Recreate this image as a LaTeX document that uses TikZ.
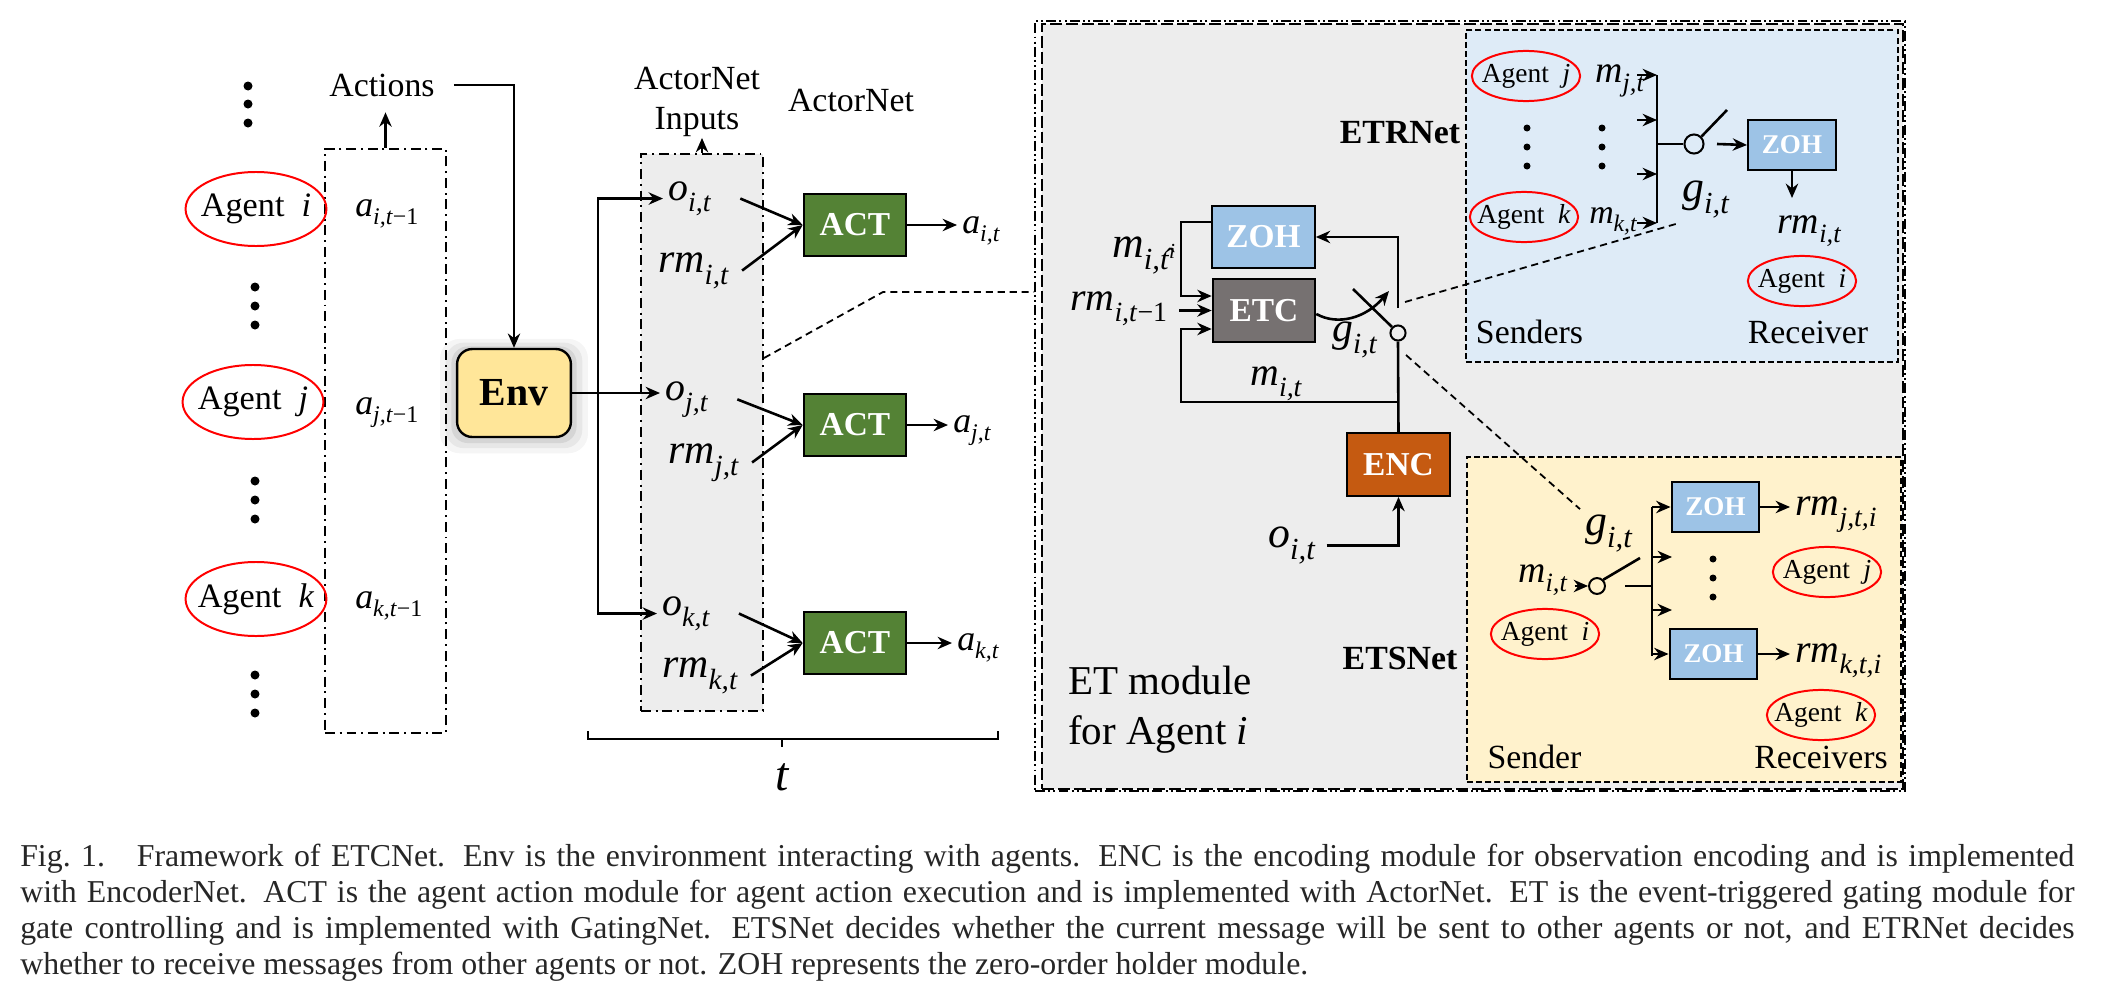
\documentclass[tikz,border=0pt]{standalone}
\usepackage{fontspec}
\setmainfont{Liberation Serif}
\usetikzlibrary{arrows.meta,shapes.geometric,shadows,calc}

\definecolor{envyellow}{HTML}{FFE699}
\definecolor{actgreen}{HTML}{548235}
\definecolor{zohblue}{HTML}{9DC3E6}
\definecolor{etcgray}{HTML}{767171}
\definecolor{encorange}{HTML}{C55A11}
\definecolor{etrblue}{HTML}{DEEBF7}
\definecolor{etsyellow}{HTML}{FFF2CC}
\definecolor{etgray}{HTML}{EDEDED}

\newcommand{\vlab}[2]{\textit{#1}\textsubscript{\raisebox{-0.2em}{\textit{#2}}}}
\newcommand{\vlabm}[2]{\textit{#1}\textsubscript{\raisebox{-0.2em}{\textit{#2}−1}}}

\begin{document}
\begin{tikzpicture}[x=0.2513pt, y=-0.2513pt, >={Stealth[length=3.6pt,width=3.1pt]}, line width=0.65pt]
      \tikzstyle{agent}=[draw=red, line width=0.5pt, ellipse, inner sep=0pt, minimum width=35.4pt, minimum height=18.6pt, font=\fontsize{8.6}{10}\selectfont]
      \tikzstyle{smallagent}=[agent, minimum width=27.2pt, minimum height=12.6pt, font=\fontsize{6.9}{8}\selectfont]
      \tikzstyle{block}=[draw, line width=0.5pt, minimum width=25.8pt, minimum height=15.8pt, inner sep=0pt, text=white, font=\bfseries\fontsize{8.4}{10}\selectfont]
      \tikzstyle{smallzoh}=[block, fill=zohblue, minimum width=22.1pt, minimum height=12.6pt, font=\bfseries\fontsize{6.8}{8}\selectfont]
      \tikzstyle{lbl}=[inner sep=0pt, font=\fontsize{8.5}{10}\selectfont]
      \tikzstyle{sym}=[inner sep=1pt, anchor=base west, font=\fontsize{10}{12}\selectfont]
      \tikzstyle{switch}=[draw, circle, line width=0.5pt, inner sep=0pt, minimum size=3.9pt]
      \tikzstyle{dashdot}=[line width=0.5pt, dash pattern=on 2.5pt off 1.2pt on 0.5pt off 1.2pt]
      \tikzstyle{subbox}=[draw, line width=0.5pt, dash pattern=on 1.5pt off 0.8pt]
      \tikzstyle{leader}=[line width=0.45pt, dash pattern=on 1.8pt off 1.2pt]

      \useasboundingbox (0,0) rectangle (2114,1006);

      % draw frames
      \node [draw, dashdot, minimum width=30.4pt, minimum height=146.8pt] (actframe) at (385.5,441) {};
      \node [draw, dashdot, fill=etgray, minimum width=30.7pt, minimum height=140pt] (inframe) at (702,432.5) {};
      \node [draw, line width=0.5pt, dash pattern=on 2.5pt off 0.8pt on 0.5pt off 0.8pt on 0.5pt off 0.8pt, minimum width=218.6pt, minimum height=193.5pt] (etouter) at (1470,406) {};
      \node [draw, line width=0.5pt, dash pattern=on 3pt off 1pt, fill=etgray, minimum width=216.4pt, minimum height=192.2pt] (etframe) at (1472.5,406.5) {};
      \node [subbox, fill=etrblue, minimum width=108.6pt, minimum height=83.4pt] (etrframe) at (1682,196) {};
      \node [subbox, fill=etsyellow, minimum width=109.1pt, minimum height=81.7pt] (etsframe) at (1684,619.5) {};

      % draw agents
      \foreach \y in {86,104,123}
      \fill (248,\y) circle (4.5);
      \foreach \y in {287,306,325,481,500,519,675,694,713}
      \fill (255,\y) circle (4.5);

      \foreach \m/\x/\y [count=\n] in {i/256/209, j/253/402, k/256/599}
      \node [agent] (ag\n) at (\x,\y) {\makebox[0pt]{Agent\ \ \textit{\m}}};

      \foreach \m/\y [count=\n] in {i/216, j/414, k/608}
      \node [sym, font=\fontsize{9}{11}\selectfont] (ap\n) at (350,\y) {\vlabm{a}{\m,t}};

      \node [draw, line width=0.6pt, fill=envyellow, rounded corners=3.8pt, minimum width=28.6pt, minimum height=22.1pt,
             general shadow={fill=black, opacity=0.04, shadow scale=1.3, shadow yshift=-0.6pt},
             general shadow={fill=black, opacity=0.06, shadow scale=1.2, shadow yshift=-0.5pt},
             general shadow={fill=black, opacity=0.08, shadow scale=1.1, shadow yshift=-0.4pt},
             font=\bfseries\fontsize{10}{12}\selectfont] (env) at (514,393) {Env};

      % draw actornet
      \foreach \m/\x/\y [count=\n] in {i/663/200, j/660/400, k/657/615}
      \node [sym] (o\n) at (\x,\y) {\vlab{o}{\m,t}};

      \foreach \m/\x/\y [count=\n] in {i/653/272, j/663/463, k/657/677}
      \node [sym, font=\fontsize{10.5}{12}\selectfont] (rm\n) at (\x,\y) {\vlab{rm}{\m,t}};

      \foreach \y [count=\n] in {225,425,643}
      \node [block, fill=actgreen] (act\n) at (855,\y) {ACT};

      \foreach \m/\x/\y [count=\n] in {i/957/233, j/948/432, k/952/650}
      \node [sym, font=\fontsize{9}{11}\selectfont] (a\n) at (\x,\y) {\vlab{a}{\m,t}};

      % draw text
      \node [lbl] (actions) at (382,85) {Actions};
      \node [lbl, align=center] (inlabel) at (697,102) {ActorNet\\Inputs};
      \node [lbl] (actorlabel) at (851,101) {ActorNet};
      \node [font=\itshape\fontsize{12}{14}\selectfont, inner sep=0pt] (tlab) at (782,777) {t};

      % draw lines
      \draw [->] ([xshift=4.5pt]actions.east) -| (env.north);
      \draw [->] (actframe.north) -- ([yshift=-3.7pt]actframe.north |- actions.south);
      \draw [->] (inframe.north) -- (inframe.north |- inlabel.south);

      \coordinate (bus) at (598,392);
      \draw [->] (bus) |- (o1.west);
      \draw [->] (bus) |- (o3.west);
      \draw [->] (env.east) -- (env.east -| o2.west);

      \foreach \n in {1,2,3} {
          \draw [->] ([xshift=5.5pt]o\n.east) -- (act\n.west);
          \draw [->] ([xshift=1.5pt]rm\n.east) -- (act\n.west);
          \draw [->] (act\n.east) -- (act\n.east -| a\n.west);};

      \draw (588,731) -- (588,739) -- (998,739) -- (998,731);
      \draw (782,739) -- (782,747);

      \draw [leader] (inframe.east |- 0,358) -- (883,292) -- (etouter.west |- 0,292);

      % draw ET module
      \node [block, fill=zohblue] (zoh0) at (1263.5,237) {ZOH};
      \node [block, fill=etcgray] (etc) at (1264,310.5) {ETC};
      \node [block, fill=encorange] (enc) at (1398.5,464.5) {ENC};
      \node [switch, minimum size=3.8pt] (sw1) at (1398,333) {};
      \coordinate (swc) at (1398,308);

      \node [sym, font=\fontsize{11}{13}\selectfont] (mhat) at (1107,257)
      {\textit{m}\textsubscript{\raisebox{-0.2em}{\textit{i,\rlap{\hspace{0.1em}ˆ}t}\textsuperscript{\textit{i}}}}};
      \node [sym] (rmprev) at (1065,310) {\vlabm{rm}{i,t}};
      \node [sym, font=\fontsize{10.5}{12}\selectfont] (ge) at (1327,341) {\vlab{g}{i,t}};
      \node [sym] (me) at (1245,385) {\vlab{m}{i,t}};
      \node [sym, font=\fontsize{11}{13}\selectfont] (oe) at (1263,547) {\vlab{o}{i,t}};

      \draw [->] (zoh0.west |- 0,222) -- (1181,222) |- (etc.west |- 0,296);
      \draw [->] ($(rmprev.east |- etc.west)+(5,0)$) -- (etc.west);
      \draw [->] (enc.north |- 0,402) -- (1181,402) |- (etc.west |- 0,329);
      \draw (enc.north) -- (sw1.south);
      \draw [->] (swc) |- (zoh0.east);
      \draw (sw1.north west) -- (1353,289);
      \draw [->] (etc.east |- 0,314) .. controls (1338,326) and (1366,318) .. (1389,291);
      \draw [->] ([xshift=1pt]oe.east) -| (enc.south);

      \node [lbl, font=\bfseries\fontsize{8.5}{10}\selectfont] (etrlabel) at (1400,133) {ETRNet};
      \node [lbl, font=\bfseries\fontsize{8.5}{10}\selectfont] (etslabel) at (1400,658) {ETSNet};
      \node [lbl, anchor=north west, align=left, font=\fontsize{10.3}{12.6}\selectfont] (etname) at (1067,665) {ET module\\for Agent \textit{i}};

      % draw ETRNet
      \node [smallagent] (rj) at (1526,76) {\makebox[0pt]{Agent\ \ \textit{j}}};
      \node [smallagent] (rk) at (1524,217) {\makebox[0pt]{Agent\ \ \textit{k}}};
      \node [smallagent] (ri) at (1802,281) {\makebox[0pt]{Agent\ \ \textit{i}}};
      \node [sym, font=\fontsize{9.5}{11}\selectfont] (mj) at (1590,82) {\vlab{m}{j,t}};
      \node [sym, font=\fontsize{8.5}{10}\selectfont] (mk) at (1584,223) {\vlab{m}{k,t}};
      \node [sym, font=\fontsize{11}{13}\selectfont] (gr) at (1677,201) {\vlab{g}{i,t}};
      \node [sym, font=\fontsize{9.5}{11}\selectfont] (rmr) at (1772,233) {\vlab{rm}{i,t}};
      \node [switch, minimum size=4.8pt] (sw2) at (1694,144) {};
      \node [smallzoh] (zohr) at (1792,145) {ZOH};
      \node [lbl] (senders) at (1529.5,332) {Senders};
      \node [lbl] (receiver) at (1808,332) {Receiver};

      \foreach \x in {1527,1602}
      \foreach \y in {128,147,166}
      \fill (\x,\y) circle (3.5);

      \coordinate (busr) at (1657,144);
      \draw (busr |- 0,75) -- (busr |- 0,223);
      \foreach \y in {75,120,174,223}
      \draw [->] (1637,\y) -- (busr |- 0,\y);
      \draw (busr) -- (sw2.west);
      \draw (sw2.north east) -- (1727,110);
      \draw [->] (1717,144) -- (zohr.west);
      \draw [->] (zohr.south) -- (1792,198);

      % draw ETSNet
      \node [smallagent] (si) at (1545,634) {\makebox[0pt]{Agent\ \ \textit{i}}};
      \node [smallagent] (sj) at (1827,572) {\makebox[0pt]{Agent\ \ \textit{j}}};
      \node [smallagent] (sk) at (1821,715) {\makebox[0pt]{Agent\ \ \textit{k}}};
      \node [sym, font=\fontsize{11}{13}\selectfont] (gs) at (1580,535) {\vlab{g}{i,t}};
      \node [sym, font=\fontsize{9.5}{11}\selectfont] (ms) at (1513,582) {\vlab{m}{i,t}};
      \node [switch, minimum size=4pt] (sw3) at (1597,586) {};
      \node [smallzoh] (zoha) at (1715.5,507) {ZOH};
      \node [smallzoh] (zohb) at (1713.5,654) {ZOH};
      \node [sym] (rmj) at (1790,515) {\vlab{rm}{j,t,i}};
      \node [sym] (rmk) at (1790,662) {\vlab{rm}{k,t,i}};
      \node [lbl] (sender) at (1534.5,757) {Sender};
      \node [lbl] (receivers) at (1821,757) {Receivers};

      \foreach \y in {559,578,597}
      \fill (1713,\y) circle (3.5);

      \coordinate (buss) at (1652,586);
      \draw (buss |- 0,507) -- (buss |- 0,656);
      \draw [->] (buss |- zoha.west) -- (zoha.west);
      \draw [->] (buss |- zohb.west) -- (zohb.west);
      \foreach \y in {557,610}
      \draw [->] (buss |- 0,\y) -- ++(20,0);
      \draw [->] (ms.east |- sw3.west) -- (sw3.west);
      \draw (sw3.north east) -- (1640,558);
      \draw (1625,586) -- (buss);
      \draw [->] (zoha.east) -- (zoha.east -| rmj.west);
      \draw [->] (zohb.east) -- (zohb.east -| rmk.west);

      \draw [leader] ($(swc)+(7,-6)$) -- (gr.south west);
      \draw [leader] ($(sw1)+(8,22)$) -- (gs.north west);

      % draw caption
      \node [anchor=north west, inner sep=0pt, text width=516.2pt, align=justify, text=black!85, font=\fontsize{8}{9}\selectfont] (caption) at (19,843)
      {Fig.~1.\hspace{1em}Framework of ETCNet. Env is the environment interacting with agents. ENC is the encoding module for observation encoding and is implemented \linebreak
       with EncoderNet. ACT is the agent action module for agent action execution and is implemented with ActorNet. ET is the event-triggered gating module for \linebreak
       gate controlling and is implemented with GatingNet. ETSNet decides whether the current message will be sent to other agents or not, and ETRNet decides \linebreak
       whether to receive messages from other agents or not. ZOH represents the zero-order holder module.};

    \end{tikzpicture}
\end{document}
